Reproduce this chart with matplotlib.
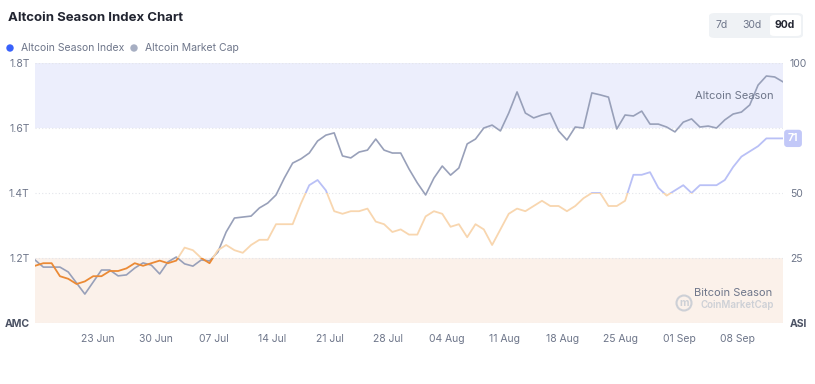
import pandas as pd
import matplotlib
matplotlib.use("Agg")
import matplotlib.pyplot as plt
import matplotlib.dates as mdates
from matplotlib.patches import FancyBboxPatch, Ellipse
from matplotlib.transforms import Bbox, TransformedBbox, blended_transform_factory

plt.rcParams['font.family'] = ['Inter', 'DejaVu Sans']

# daily points, 90 day window
dates = pd.date_range('2025-06-15 12:00', periods=91, freq='D')

# altcoin market cap, trillions USD
market_cap = [1.194, 1.172, 1.172, 1.172, 1.157, 1.123, 1.089, 1.126, 1.163, 1.163,
              1.145, 1.148, 1.169, 1.185, 1.178, 1.151, 1.188, 1.203, 1.182, 1.175,
              1.194, 1.191, 1.218, 1.280, 1.323, 1.326, 1.329, 1.354, 1.369, 1.394,
              1.446, 1.492, 1.505, 1.523, 1.560, 1.578, 1.585, 1.514, 1.508, 1.526,
              1.532, 1.566, 1.532, 1.523, 1.523, 1.474, 1.431, 1.394, 1.446, 1.483,
              1.455, 1.477, 1.551, 1.566, 1.600, 1.609, 1.591, 1.646, 1.711, 1.646,
              1.631, 1.640, 1.646, 1.591, 1.563, 1.603, 1.600, 1.708, 1.702, 1.695,
              1.597, 1.640, 1.637, 1.652, 1.612, 1.612, 1.603, 1.588, 1.618, 1.628,
              1.603, 1.606, 1.600, 1.625, 1.643, 1.649, 1.671, 1.732, 1.760, 1.757,
              1.742]

# altcoin season index, 0-100
season_index = [22, 23, 23, 18, 17, 15, 16, 18, 18, 20,
                20, 21, 23, 22, 23, 24, 23, 24, 29, 28,
                25, 23, 28, 30, 28, 27, 30, 32, 32, 38,
                38, 38, 46, 53, 55, 51, 43, 42, 43, 43,
                44, 39, 38, 35, 36, 34, 34, 41, 43, 42,
                37, 38, 33, 38, 36, 30, 36, 42, 44, 43,
                45, 47, 45, 45, 43, 45, 48, 50, 50, 45,
                45, 47, 57, 57, 58, 52, 49, 51, 53, 50,
                53, 53, 53, 55, 60, 64, 66, 68, 71, 71,
                71]

amc_ticks = [1.0, 1.2, 1.4, 1.6, 1.8]
amc_labels = ['AMC', '1.2T', '1.4T', '1.6T', '1.8T']
asi_ticks = [0, 25, 50, 100]
asi_labels = ['ASI', '25', '50', '100']
week_ticks = pd.date_range('2025-06-23', '2025-09-08', freq='7D')

grey_txt = '#6E768A'
W, H = 815, 384


def fx(px):
    return px / W


def fy(py):
    return 1 - py / H


fig = plt.figure(figsize=(8.15, 3.84), dpi=100)
ax = fig.add_axes([fx(35), 61 / H, 748 / W, 260 / H])
ax2 = ax.twinx()

# season bands
ax.axhspan(1.6, 1.8, color='#ECEEFC', lw=0, zorder=0)
ax.axhspan(1.0, 1.2, color='#FBF1EA', lw=0, zorder=0)
for t in amc_ticks:
    ax.axhline(t, color='#E3E5EA', lw=0.8, ls=(0, (1, 2)), zorder=1)

ax.plot(dates, market_cap, color='#98A0B9', lw=1.2, zorder=3, solid_joinstyle='round')

# index line, coloured by zone
zones = [(0, 25, '#EB8A35'), (25, 50, '#F8D6AF'), (50, 75, '#B9C0F6'), (75, 100, '#6D7CF0')]
blend = blended_transform_factory(ax2.transAxes, ax2.transData)
for lo, hi, c in zones:
    ln, = ax2.plot(dates, season_index, color=c, lw=1.3, solid_joinstyle='round')
    ln.set_clip_box(TransformedBbox(Bbox([[0, lo], [1, hi]]), blend))

ax.set_ylim(1.0, 1.8)
ax2.set_ylim(0, 100)
ax.set_xlim(dates[0], dates[-1])

for a in (ax, ax2):
    for s in a.spines.values():
        s.set_visible(False)
    a.tick_params(length=0)

ax.set_yticks(amc_ticks)
ax.set_yticklabels(amc_labels, fontsize=7.5, color=grey_txt)
ax.get_yticklabels()[0].set_fontweight('bold')
ax.get_yticklabels()[0].set_color('#4A5163')
ax.tick_params(axis='y', pad=4)

ax2.set_yticks(asi_ticks)
ax2.set_yticklabels(asi_labels, fontsize=7.5, color=grey_txt)
ax2.get_yticklabels()[0].set_fontweight('bold')
ax2.get_yticklabels()[0].set_color('#4A5163')
ax2.tick_params(axis='y', pad=5)

ax.set_xticks(week_ticks)
ax.xaxis.set_major_formatter(mdates.DateFormatter('%d %b'))
ax.tick_params(axis='x', labelsize=7.5, labelcolor=grey_txt, pad=8)

# current value badge
ax2.text(1.0134, season_index[-1], str(season_index[-1]), transform=blend,
         ha='center', va='center', fontsize=7.5, fontweight='bold', color='white',
         bbox=dict(boxstyle='round,pad=0.35,rounding_size=0.3', fc='#C2C8F8', ec='none'),
         clip_on=False)

ax2.text(0.988, 87.5, 'Altcoin Season', transform=blend, ha='right', va='center',
         fontsize=8, color=grey_txt)
ax2.text(0.986, 11.5, 'Bitcoin Season', transform=blend, ha='right', va='center',
         fontsize=8, color=grey_txt)

# watermark
wm = '#CDD0D6'
fig.text(fx(774), fy(305), 'CoinMarketCap', ha='right', va='center',
         fontsize=7, fontweight='semibold', color=wm)
fig.patches.append(Ellipse((fx(684), fy(303)), 15 / W, 15 / H, transform=fig.transFigure,
                           fill=False, ec=wm, lw=1.5))
fig.text(fx(684), fy(303.5), 'm', ha='center', va='center',
         fontsize=7.5, fontweight='bold', color=wm)

# header
fig.text(fx(8), fy(18), 'Altcoin Season Index Chart', fontsize=9.5,
         fontweight='bold', color='#222531', va='center')
fig.patches.append(Ellipse((fx(10), fy(48)), 6 / W, 6 / H, transform=fig.transFigure,
                           color='#3861FB'))
fig.text(fx(21), fy(48), 'Altcoin Season Index', fontsize=7.5, color=grey_txt, va='center')
fig.patches.append(Ellipse((fx(134), fy(48)), 6 / W, 6 / H, transform=fig.transFigure,
                           color='#A6AEC2'))
fig.text(fx(145), fy(48), 'Altcoin Market Cap', fontsize=7.5, color=grey_txt, va='center')

# range buttons
fig.patches.append(FancyBboxPatch((fx(709), fy(38)), 94 / W, 25 / H,
                                  boxstyle='round,pad=0,rounding_size=0.008',
                                  transform=fig.transFigure, fc='#EFF2F5', ec='none'))
fig.patches.append(FancyBboxPatch((fx(770), fy(36)), 31 / W, 21 / H,
                                  boxstyle='round,pad=0,rounding_size=0.006',
                                  transform=fig.transFigure, fc='white', ec='none'))
for label, xc, bold in [('7d', 722, False), ('30d', 752, False), ('90d', 785, True)]:
    fig.text(fx(xc), fy(25), label, ha='center', va='center', fontsize=7.5,
             fontweight='bold' if bold else 'normal',
             color='#222531' if bold else grey_txt)

fig.savefig('out.png', dpi=100)
